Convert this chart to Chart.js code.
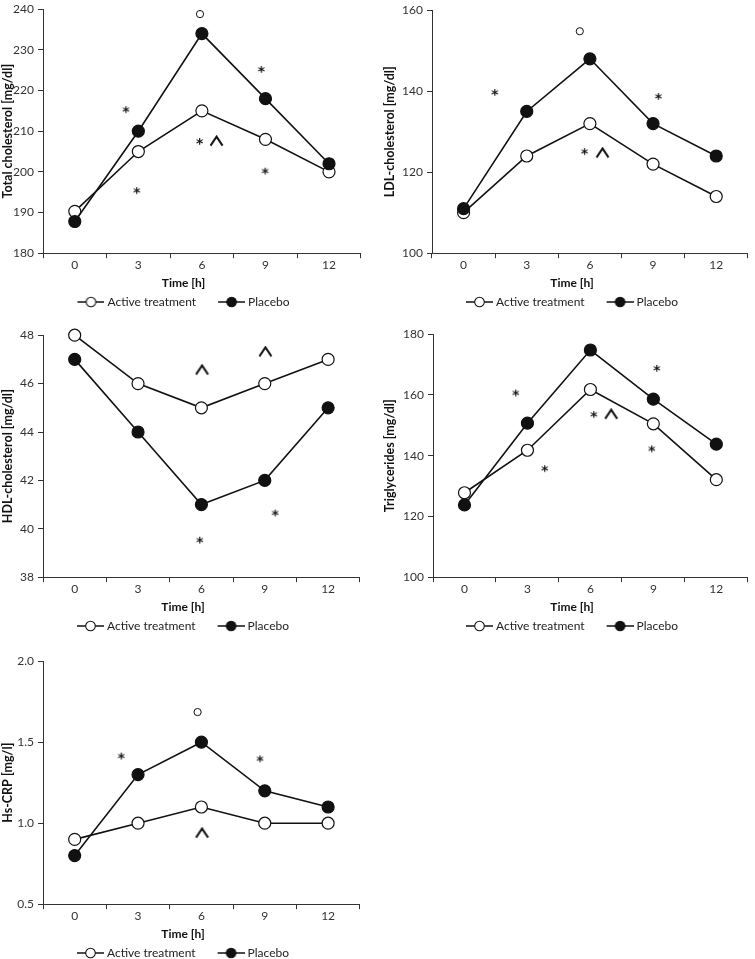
<!DOCTYPE html>
<html><head><meta charset="utf-8">
<script src="https://cdn.jsdelivr.net/npm/chart.js@4.4.0/dist/chart.umd.min.js"></script>
<style>
html,body{margin:0;padding:0;background:#fff;width:755px;height:959px;overflow:hidden;position:relative}
canvas{position:absolute}
</style></head><body>
<canvas id="c1"></canvas>
<canvas id="c2"></canvas>
<canvas id="c3"></canvas>
<canvas id="c4"></canvas>
<canvas id="c5"></canvas>
<script>
// ---------- data ----------
const timeLabels = ['0', '3', '6', '9', '12'];
const seriesNames = ['Active treatment', 'Placebo'];
const xTitle = 'Time [h]';

const totalActive  = [190.3, 205, 215, 208, 200];
const totalPlacebo = [187.8, 210, 234, 218, 202];
const totalTicks   = [180, 190, 200, 210, 220, 230, 240];

const ldlActive  = [110, 124, 132, 122, 114];
const ldlPlacebo = [111, 135, 148, 132, 124];
const ldlTicks   = [100, 120, 140, 160];

const hdlActive  = [48, 46, 45, 46, 47];
const hdlPlacebo = [47, 44, 41, 42, 45];
const hdlTicks   = [38, 40, 42, 44, 46, 48];

const tgActive  = [127.8, 141.8, 161.8, 150.5, 132.1];
const tgPlacebo = [123.8, 150.7, 174.8, 158.6, 143.8];
const tgTicks   = [100, 120, 140, 160, 180];

const crpActive  = [0.9, 1.0, 1.1, 1.0, 1.0];
const crpPlacebo = [0.8, 1.3, 1.5, 1.2, 1.1];
const crpTicks   = [0.5, 1.0, 1.5, 2.0];

// significance marks: [category position (0..4), value]
const totalStars  = [[0.81, 215.4], [2.94, 225.3], [1.97, 207.6], [0.98, 195.5], [3.0, 200.3]];
const totalCarets = [[2.23, 207.6]];
const totalRings  = [[1.97, 238.8]];

const ldlStars  = [[0.5, 139.8], [3.09, 138.8], [1.92, 125.2]];
const ldlCarets = [[2.2, 124.8]];
const ldlRings  = [[1.84, 154.8]];

const hdlStars  = [[3.17, 40.67], [1.98, 39.55]];
const hdlCarets = [[2.01, 46.57], [3.01, 47.32]];
const hdlRings  = [];

const tgStars  = [[0.82, 160.8], [3.06, 168.9], [2.06, 153.7], [1.28, 135.9], [2.98, 142.4]];
const tgCarets = [[2.33, 153.7]];
const tgRings  = [[1.94, 181.8]];

const crpStars  = [[0.74, 1.417], [2.93, 1.4]];
const crpCarets = [[2.01, 0.94]];
const crpRings  = [[1.94, 1.686]];

// ---------- glyph images ----------
const INK = '#111';
const FONT = 'Lato';
function starImg() {
  const c = document.createElement('canvas'); c.width = 16; c.height = 16;
  const g = c.getContext('2d');
  g.font = 'bold 14px "DejaVu Sans"'; g.fillStyle = INK; g.textAlign = 'left'; g.textBaseline = 'alphabetic';
  const m = g.measureText('*');
  const x = 8 - (m.actualBoundingBoxRight - m.actualBoundingBoxLeft) / 2;
  const y = 8 + (m.actualBoundingBoxAscent - m.actualBoundingBoxDescent) / 2;
  g.fillText('*', x, y);
  return c;
}
function caretImg() {
  const c = document.createElement('canvas'); c.width = 15; c.height = 12;
  const g = c.getContext('2d');
  g.strokeStyle = INK; g.lineWidth = 2; g.lineJoin = 'miter';
  g.beginPath(); g.moveTo(1.5, 10.6); g.lineTo(7.5, 1.6); g.lineTo(13.5, 10.6); g.stroke();
  return c;
}
function legendImg(filled) {
  const c = document.createElement('canvas'); c.width = 30; c.height = 12;
  const g = c.getContext('2d');
  g.strokeStyle = INK; g.lineWidth = 1.5;
  g.beginPath(); g.moveTo(3, 6); g.lineTo(30, 6); g.stroke();
  g.beginPath(); g.arc(16.5, 6, 4.8, 0, Math.PI * 2);
  g.fillStyle = filled ? INK : '#fff'; g.fill(); g.lineWidth = 1.1; g.stroke();
  return c;
}
const STAR = starImg(), CARET = caretImg();
const LEG_A = legendImg(false), LEG_P = legendImg(true);

// ---------- panel builder ----------
function pts(arr) { return arr.map(p => ({x: p[0], y: p[1]})); }

function makePanel(p) {
  const cv = document.getElementById(p.id);
  cv.width = p.w; cv.height = p.h;
  cv.style.left = p.left + 'px'; cv.style.top = p.top + 'px';
  const tickFont = {family: FONT, size: 12};
  const lineDs = (label, data, filled, order) => ({
    label, data, xAxisID: 'x', yAxisID: 'y', order, clip: false,
    borderColor: INK, borderWidth: 1.6, tension: 0,
    pointRadius: 6, pointHoverRadius: 6, pointBorderWidth: 1.2,
    pointBorderColor: INK, pointBackgroundColor: filled ? INK : '#fff'
  });
  const markDs = (label, data, style, extra) => Object.assign({
    label, data: pts(data), xAxisID: 'xn', yAxisID: 'y', order: 2, clip: false,
    showLine: false, pointStyle: style, pointRadius: 5, borderColor: INK, backgroundColor: '#fff'
  }, extra || {});
  new Chart(cv, {
    type: 'line',
    data: {
      labels: timeLabels,
      datasets: [
        lineDs(seriesNames[0], p.active, false, 1),
        lineDs(seriesNames[1], p.placebo, true, 0),
        markDs('stars', p.stars, STAR),
        markDs('carets', p.carets, CARET),
        markDs('rings', p.rings, 'circle', {pointRadius: 3.6, pointBorderWidth: 1, pointBorderColor: INK, pointBackgroundColor: '#fff'})
      ]
    },
    options: {
      responsive: false, animation: false, devicePixelRatio: 1,
      events: [],
      layout: {padding: {left: p.padL, right: 1, top: 0, bottom: 0}},
      plugins: {
        tooltip: {enabled: false},
        title: {
          display: true, text: xTitle, position: 'bottom', weight: 500, color: INK,
          font: {family: FONT, size: 12, weight: 'bold'}, padding: {top: 3, bottom: -16}
        },
        legend: {
          position: 'bottom',
          labels: {
            usePointStyle: true, pointStyleWidth: 24, padding: 22, color: '#222',
            font: {family: FONT, size: 12},
            generateLabels: () => [
              {text: seriesNames[0], pointStyle: LEG_A, fillStyle: '#fff', strokeStyle: INK, lineWidth: 0, hidden: false, datasetIndex: 0, fontColor: '#222'},
              {text: seriesNames[1], pointStyle: LEG_P, fillStyle: INK, strokeStyle: INK, lineWidth: 0, hidden: false, datasetIndex: 1, fontColor: '#222'}
            ]
          }
        }
      },
      scales: {
        x: {
          type: 'category', offset: true,
          grid: {offset: true, drawOnChartArea: false, drawTicks: true, tickLength: 5, color: '#333'},
          border: {color: '#333', width: 1},
          ticks: {padding: 0, color: '#333', font: tickFont, maxRotation: 0, autoSkip: false}
        },
        xn: {type: 'linear', display: false, min: -0.5, max: 4.5},
        y: {
          type: 'linear', min: p.ticks[0], max: p.ticks[p.ticks.length - 1],
          afterBuildTicks: s => { s.ticks = p.ticks.map(v => ({value: v})); },
          ticks: {padding: 4, color: '#333', font: tickFont, callback: p.fmt || (v => String(v))},
          grid: {drawOnChartArea: false, drawTicks: true, tickLength: 5, color: '#333'},
          border: {color: '#333', width: 1},
          title: {display: true, text: p.yTitle, color: INK, font: {family: FONT, size: 12.5, weight: 'bold'}, padding: {top: p.titlePad, bottom: 0}},
          afterFit: s => { s.width = p.yW; }
        }
      }
    }
  });
}

makePanel({id: 'c1', left: 0, top: -2, w: 368, h: 320, padL: 0, yW: 43, titlePad: 0,
  yTitle: 'Total cholesterol [mg/dl]', active: totalActive, placebo: totalPlacebo, ticks: totalTicks,
  stars: totalStars, carets: totalCarets, rings: totalRings});
makePanel({id: 'c2', left: 380, top: -1, w: 375, h: 319, padL: 10, yW: 42, titlePad: -7.2,
  yTitle: 'LDL-cholesterol [mg/dl]', active: ldlActive, placebo: ldlPlacebo, ticks: ldlTicks,
  stars: ldlStars, carets: ldlCarets, rings: ldlRings});
makePanel({id: 'c3', left: 0, top: 324, w: 367, h: 318, padL: 0, yW: 43, titlePad: 0,
  yTitle: 'HDL-cholesterol [mg/dl]', active: hdlActive, placebo: hdlPlacebo, ticks: hdlTicks,
  stars: hdlStars, carets: hdlCarets, rings: hdlRings});
makePanel({id: 'c4', left: 380, top: 323, w: 375, h: 319, padL: 10, yW: 43, titlePad: -7.2,
  yTitle: 'Triglycerides [mg/dl]', active: tgActive, placebo: tgPlacebo, ticks: tgTicks,
  stars: tgStars, carets: tgCarets, rings: tgRings});
makePanel({id: 'c5', left: 0, top: 650, w: 367, h: 319, padL: 0, yW: 43, titlePad: 0,
  yTitle: 'Hs-CRP [mg/l]', active: crpActive, placebo: crpPlacebo, ticks: crpTicks, fmt: v => v.toFixed(1),
  stars: crpStars, carets: crpCarets, rings: crpRings});
</script>
</body></html>
